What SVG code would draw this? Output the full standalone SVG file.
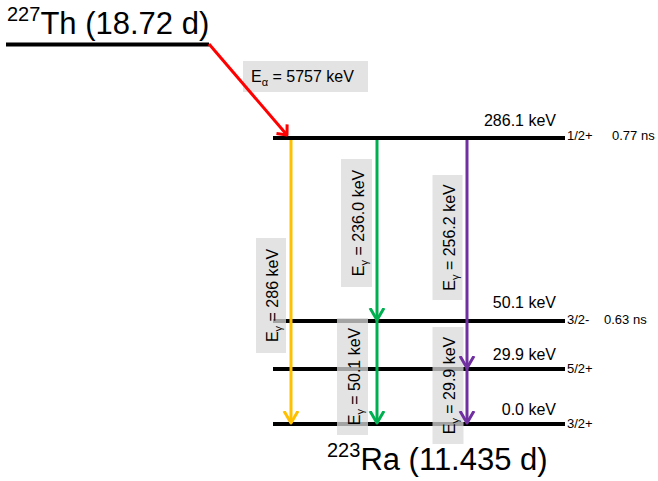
<svg xmlns="http://www.w3.org/2000/svg" width="658" height="481" viewBox="0 0 658 481">
<style>
text{font-family:"Liberation Sans",Arial,sans-serif;fill:#000}
.lvl{stroke:#000;stroke-width:4;fill:none}
.box{fill:#d9d9d9;fill-opacity:0.75}
.big{font-size:31px}
.sup{font-size:20px}
.en{font-size:16px;text-anchor:end}
.jp{font-size:13px}
.lab{font-size:16px}
.rot{font-size:16px;text-anchor:middle}
.sub{font-size:11px}
</style>
<defs>
<marker id="hr" viewBox="-12 -10 14 20" markerWidth="14" markerHeight="20" refX="0" refY="0" orient="auto" markerUnits="userSpaceOnUse"><path d="M-8,-7 L0,0 L-8,7" fill="none" stroke="#FF0000" stroke-width="3" stroke-linejoin="round"/></marker>
<marker id="hy" viewBox="-12 -10 14 20" markerWidth="14" markerHeight="20" refX="0" refY="0" orient="auto" markerUnits="userSpaceOnUse"><path d="M-12,-7 L0,0 L-12,7" fill="none" stroke="#FFC000" stroke-width="3" stroke-linejoin="round"/></marker>
<marker id="hg" viewBox="-12 -10 14 20" markerWidth="14" markerHeight="20" refX="0" refY="0" orient="auto" markerUnits="userSpaceOnUse"><path d="M-12,-7 L0,0 L-12,7" fill="none" stroke="#00B050" stroke-width="3" stroke-linejoin="round"/></marker>
<marker id="hp" viewBox="-12 -10 14 20" markerWidth="14" markerHeight="20" refX="0" refY="0" orient="auto" markerUnits="userSpaceOnUse"><path d="M-12,-7 L0,0 L-12,7" fill="none" stroke="#7030A0" stroke-width="3" stroke-linejoin="round"/></marker>
</defs>

<g id="th227">
<line class="lvl" x1="6" y1="44.5" x2="209" y2="44.5"/>
<text x="7" y="34"><tspan class="sup" dy="-13">227</tspan><tspan class="big" dy="13">Th (18.72 d)</tspan></text>
</g>

<g id="level286">
<line class="lvl" x1="273" y1="138" x2="565" y2="138"/>
<text class="en" x="556" y="126">286.1 keV</text>
<text class="jp" x="567" y="140">1/2+</text>
<text class="jp" x="612" y="140">0.77 ns</text>
</g>
<g id="level50">
<line class="lvl" x1="273" y1="321" x2="565" y2="321"/>
<text class="en" x="556" y="308">50.1 keV</text>
<text class="jp" x="567" y="324">3/2-</text>
<text class="jp" x="604" y="324">0.63 ns</text>
</g>
<g id="level29">
<line class="lvl" x1="273" y1="369" x2="565" y2="369"/>
<text class="en" x="556" y="360">29.9 keV</text>
<text class="jp" x="567" y="373">5/2+</text>
</g>
<g id="level0">
<line class="lvl" x1="273" y1="424" x2="565" y2="424"/>
<text class="en" x="556" y="415">0.0 keV</text>
<text class="jp" x="567" y="428">3/2+</text>
</g>

<g id="ra223">
<text x="327" y="470"><tspan class="sup" dy="-13">223</tspan><tspan class="big" dy="13">Ra (11.435 d)</tspan></text>
</g>

<g id="labels">
<g id="lab-alpha">
<rect class="box" x="243" y="61" width="125" height="31"/>
<text class="lab" x="251" y="82">E<tspan class="sub" dy="4">α</tspan><tspan dy="-4"> = 5757 keV</tspan></text>
</g>
<g id="lab-286" transform="translate(271,295.5) rotate(-90)">
<rect class="box" x="-57.5" y="-15" width="115" height="30"/>
<text class="rot" x="0" y="7">E<tspan class="sub" dy="4">γ</tspan><tspan dy="-4"> = 286 keV</tspan></text>
</g>
<g id="lab-236" transform="translate(356.5,223) rotate(-90)">
<rect class="box" x="-64" y="-15.5" width="128" height="31"/>
<text class="rot" x="0" y="7">E<tspan class="sub" dy="4">γ</tspan><tspan dy="-4"> = 236.0 keV</tspan></text>
</g>
<g id="lab-256" transform="translate(447.5,237.5) rotate(-90)">
<rect class="box" x="-62.5" y="-15" width="125" height="30"/>
<text class="rot" x="0" y="7">E<tspan class="sub" dy="4">γ</tspan><tspan dy="-4"> = 256.2 keV</tspan></text>
</g>
<g id="lab-50" transform="translate(352.5,376.5) rotate(-90)">
<rect class="box" x="-58.5" y="-15.5" width="117" height="31"/>
<text class="rot" x="0" y="7">E<tspan class="sub" dy="4">γ</tspan><tspan dy="-4"> = 50.1 keV</tspan></text>
</g>
<g id="lab-29" transform="translate(448,385.5) rotate(-90)">
<rect class="box" x="-58.5" y="-15.5" width="117" height="31"/>
<text class="rot" x="0" y="7">E<tspan class="sub" dy="4">γ</tspan><tspan dy="-4"> = 29.9 keV</tspan></text>
</g>
</g>

<g id="connectors" fill="none" stroke-width="3">
<line x1="209" y1="44" x2="287" y2="135" stroke="#FF0000" marker-end="url(#hr)"/>
<line x1="291" y1="140" x2="291" y2="423" stroke="#FFC000" marker-end="url(#hy)"/>
<line x1="377" y1="140" x2="377" y2="320" stroke="#00B050" marker-end="url(#hg)"/>
<line x1="377" y1="320" x2="377" y2="423" stroke="#00B050" marker-end="url(#hg)"/>
<line x1="467" y1="140" x2="467" y2="368" stroke="#7030A0" marker-end="url(#hp)"/>
<line x1="467" y1="368" x2="467" y2="423" stroke="#7030A0" marker-end="url(#hp)"/>
</g>
</svg>
